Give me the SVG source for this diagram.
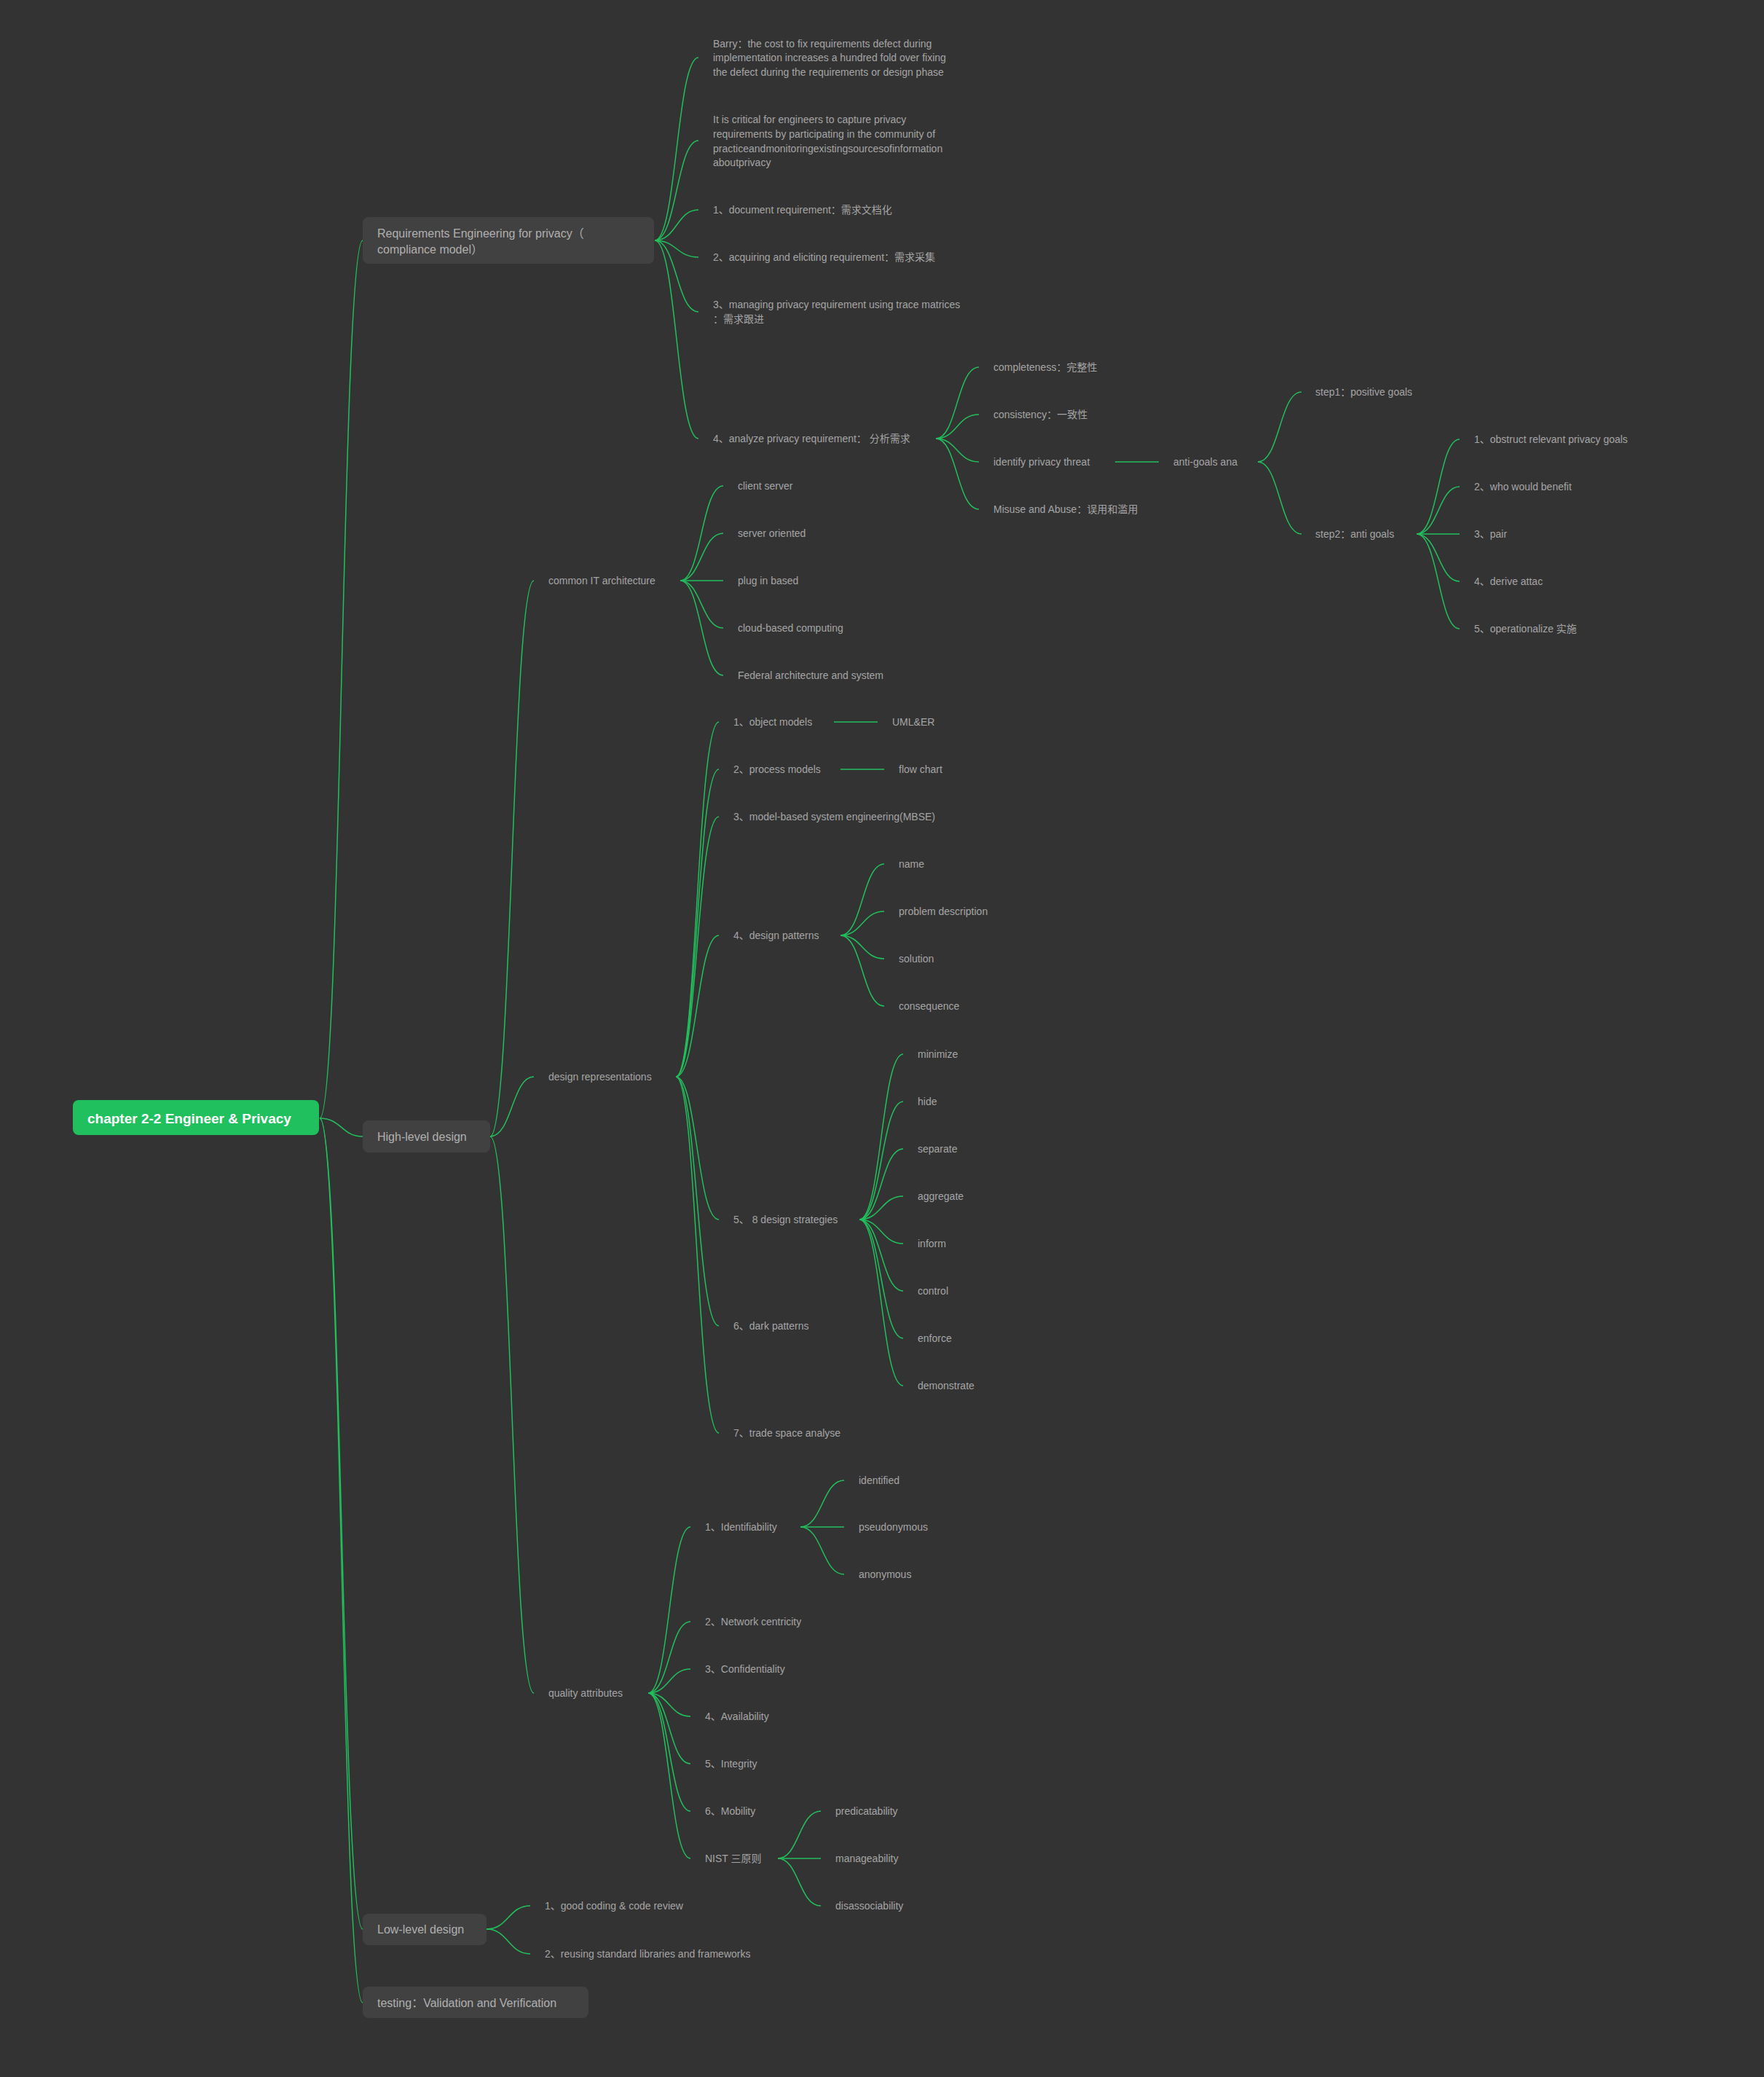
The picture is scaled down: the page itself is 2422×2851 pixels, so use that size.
<svg xmlns="http://www.w3.org/2000/svg" width="2422" height="2851" viewBox="0 0 2422 2851">
<style>
.t{font-family:"Liberation Sans","Noto Sans CJK SC",sans-serif;font-size:14px;fill:#a5a5a5}
.t1{font-family:"Liberation Sans","Noto Sans CJK SC",sans-serif;font-size:16px;fill:#b0b0b0}
.root{font-family:"Liberation Sans","Noto Sans CJK SC",sans-serif;font-size:19px;font-weight:bold;fill:#ffffff}
.box{fill:#414141}
.c path{fill:none;stroke:#22c05c;stroke-width:1.5}
</style>
<rect width="2422" height="2851" fill="#333333"/>
<g class="c" id="connectors">
<path d="M439,1535 C469,1535 469,330 498,330"/>
<path d="M439,1535 C469,1535 469,1560 498,1560"/>
<path d="M439,1535 C469,1535 469,2648 498,2648"/>
<path d="M439,1535 C469,1535 469,2749 498,2749"/>
<path d="M899,330 C929,330 929,79 959,79"/>
<path d="M899,330 C929,330 929,193 959,193"/>
<path d="M899,330 C929,330 929,288 959,288"/>
<path d="M899,330 C929,330 929,353 959,353"/>
<path d="M899,330 C929,330 929,428 959,428"/>
<path d="M899,330 C929,330 929,602 959,602"/>
<path d="M1285,602 C1314,602 1314,504 1344,504"/>
<path d="M1285,602 C1314,602 1314,569 1344,569"/>
<path d="M1285,602 C1314,602 1314,634 1344,634"/>
<path d="M1285,602 C1314,602 1314,699 1344,699"/>
<path d="M1531,634 L1591,634"/>
<path d="M1727,634 C1757,634 1757,538 1787,538"/>
<path d="M1727,634 C1757,634 1757,733 1787,733"/>
<path d="M1945,733 C1975,733 1975,603 2004,603"/>
<path d="M1945,733 C1975,733 1975,668 2004,668"/>
<path d="M1945,733 L2004,733"/>
<path d="M1945,733 C1975,733 1975,798 2004,798"/>
<path d="M1945,733 C1975,733 1975,863 2004,863"/>
<path d="M673,1560 C703,1560 703,797 733,797"/>
<path d="M673,1560 C703,1560 703,1478 733,1478"/>
<path d="M673,1560 C703,1560 703,2324 733,2324"/>
<path d="M934,797 C963,797 963,667 993,667"/>
<path d="M934,797 C963,797 963,732 993,732"/>
<path d="M934,797 L993,797"/>
<path d="M934,797 C963,797 963,862 993,862"/>
<path d="M934,797 C963,797 963,927 993,927"/>
<path d="M928,1478 C957,1478 957,991 987,991"/>
<path d="M928,1478 C957,1478 957,1056 987,1056"/>
<path d="M928,1478 C957,1478 957,1121 987,1121"/>
<path d="M928,1478 C957,1478 957,1284 987,1284"/>
<path d="M928,1478 C957,1478 957,1674 987,1674"/>
<path d="M928,1478 C957,1478 957,1820 987,1820"/>
<path d="M928,1478 C957,1478 957,1967 987,1967"/>
<path d="M1145,991 L1205,991"/>
<path d="M1154,1056 L1214,1056"/>
<path d="M1154,1284 C1184,1284 1184,1186 1214,1186"/>
<path d="M1154,1284 C1184,1284 1184,1251 1214,1251"/>
<path d="M1154,1284 C1184,1284 1184,1316 1214,1316"/>
<path d="M1154,1284 C1184,1284 1184,1381 1214,1381"/>
<path d="M1180,1674 C1210,1674 1210,1447 1240,1447"/>
<path d="M1180,1674 C1210,1674 1210,1512 1240,1512"/>
<path d="M1180,1674 C1210,1674 1210,1577 1240,1577"/>
<path d="M1180,1674 C1210,1674 1210,1642 1240,1642"/>
<path d="M1180,1674 C1210,1674 1210,1707 1240,1707"/>
<path d="M1180,1674 C1210,1674 1210,1772 1240,1772"/>
<path d="M1180,1674 C1210,1674 1210,1837 1240,1837"/>
<path d="M1180,1674 C1210,1674 1210,1902 1240,1902"/>
<path d="M890,2324 C919,2324 919,2096 948,2096"/>
<path d="M890,2324 C919,2324 919,2226 948,2226"/>
<path d="M890,2324 C919,2324 919,2291 948,2291"/>
<path d="M890,2324 C919,2324 919,2356 948,2356"/>
<path d="M890,2324 C919,2324 919,2421 948,2421"/>
<path d="M890,2324 C919,2324 919,2486 948,2486"/>
<path d="M890,2324 C919,2324 919,2551 948,2551"/>
<path d="M1099,2096 C1129,2096 1129,2032 1159,2032"/>
<path d="M1099,2096 L1159,2096"/>
<path d="M1099,2096 C1129,2096 1129,2161 1159,2161"/>
<path d="M1068,2551 C1097,2551 1097,2486 1127,2486"/>
<path d="M1068,2551 L1127,2551"/>
<path d="M1068,2551 C1097,2551 1097,2616 1127,2616"/>
<path d="M668,2648 C698,2648 698,2616 728,2616"/>
<path d="M668,2648 C698,2648 698,2682 728,2682"/>
</g>
<g id="root"><rect x="100" y="1510" width="338" height="48" rx="8" fill="#21c05e"/><text class="root" x="120" y="1542">chapter 2-2 Engineer &amp; Privacy</text></g>
<g id="req"><rect class="box" x="498" y="298" width="400" height="64" rx="8"/><text class="t1" x="518" y="326">Requirements Engineering for privacy（</text><text class="t1" x="518" y="348">compliance model）</text></g>
<g id="high"><rect class="box" x="498" y="1538" width="175" height="44" rx="8"/><text class="t1" x="518" y="1566">High-level design</text></g>
<g id="low"><rect class="box" x="498" y="2627" width="170" height="43" rx="8"/><text class="t1" x="518" y="2654">Low-level design</text></g>
<g id="testing"><rect class="box" x="498" y="2727" width="310" height="43" rx="8"/><text class="t1" x="518" y="2755">testing：Validation and Verification</text></g>
<g id="barry"><text class="t" x="979" y="64.5">Barry：the cost to fix requirements defect during</text><text class="t" x="979" y="84">implementation increases a hundred fold over fixing</text><text class="t" x="979" y="103.5">the defect during the requirements or design phase</text></g>
<g id="critical"><text class="t" x="979" y="169">It is critical for engineers to capture privacy</text><text class="t" x="979" y="189">requirements by participating in the community of</text><text class="t" x="979" y="208.5">practiceandmonitoringexistingsourcesofinformation</text><text class="t" x="979" y="228">aboutprivacy</text></g>
<g id="req1"><text class="t" x="979" y="293">1、document requirement：需求文档化</text></g>
<g id="req2"><text class="t" x="979" y="358">2、acquiring and eliciting requirement：需求采集</text></g>
<g id="req3"><text class="t" x="979" y="423">3、managing privacy requirement using trace matrices</text><text class="t" x="979" y="443">：需求跟进</text></g>
<g id="req4"><text class="t" x="979" y="607">4、analyze privacy requirement： 分析需求</text></g>
<g id="completeness"><text class="t" x="1364" y="509">completeness：完整性</text></g>
<g id="consistency"><text class="t" x="1364" y="574">consistency：一致性</text></g>
<g id="identify"><text class="t" x="1364" y="639">identify privacy threat</text></g>
<g id="misuse"><text class="t" x="1364" y="704">Misuse and Abuse：误用和滥用</text></g>
<g id="antigoals"><text class="t" x="1611" y="639">anti-goals ana</text></g>
<g id="step1"><text class="t" x="1806" y="543">step1：positive goals</text></g>
<g id="step2"><text class="t" x="1806" y="738">step2：anti goals</text></g>
<g id="ag1"><text class="t" x="2024" y="608">1、obstruct relevant privacy goals</text></g>
<g id="ag2"><text class="t" x="2024" y="673">2、who would benefit</text></g>
<g id="ag3"><text class="t" x="2024" y="738">3、pair</text></g>
<g id="ag4"><text class="t" x="2024" y="803">4、derive attac</text></g>
<g id="ag5"><text class="t" x="2024" y="868">5、operationalize 实施</text></g>
<g id="commonit"><text class="t" x="753" y="802">common IT architecture</text></g>
<g id="cs"><text class="t" x="1013" y="672">client server</text></g>
<g id="so"><text class="t" x="1013" y="737">server oriented</text></g>
<g id="pib"><text class="t" x="1013" y="802">plug in based</text></g>
<g id="cbc"><text class="t" x="1013" y="867">cloud-based computing</text></g>
<g id="fed"><text class="t" x="1013" y="932">Federal architecture and system</text></g>
<g id="designrep"><text class="t" x="753" y="1483">design representations</text></g>
<g id="dr1"><text class="t" x="1007" y="996">1、object models</text></g>
<g id="uml"><text class="t" x="1225" y="996">UML&amp;ER</text></g>
<g id="dr2"><text class="t" x="1007" y="1061">2、process models</text></g>
<g id="flow"><text class="t" x="1234" y="1061">flow chart</text></g>
<g id="dr3"><text class="t" x="1007" y="1126">3、model-based system engineering(MBSE)</text></g>
<g id="dr4"><text class="t" x="1007" y="1289">4、design patterns</text></g>
<g id="dp1"><text class="t" x="1234" y="1191">name</text></g>
<g id="dp2"><text class="t" x="1234" y="1256">problem description</text></g>
<g id="dp3"><text class="t" x="1234" y="1321">solution</text></g>
<g id="dp4"><text class="t" x="1234" y="1386">consequence</text></g>
<g id="dr5"><text class="t" x="1007" y="1679">5、 8 design strategies</text></g>
<g id="s1"><text class="t" x="1260" y="1452">minimize</text></g>
<g id="s2"><text class="t" x="1260" y="1517">hide</text></g>
<g id="s3"><text class="t" x="1260" y="1582">separate</text></g>
<g id="s4"><text class="t" x="1260" y="1647">aggregate</text></g>
<g id="s5"><text class="t" x="1260" y="1712">inform</text></g>
<g id="s6"><text class="t" x="1260" y="1777">control</text></g>
<g id="s7"><text class="t" x="1260" y="1842">enforce</text></g>
<g id="s8"><text class="t" x="1260" y="1907">demonstrate</text></g>
<g id="dr6"><text class="t" x="1007" y="1825">6、dark patterns</text></g>
<g id="dr7"><text class="t" x="1007" y="1972">7、trade space analyse</text></g>
<g id="quality"><text class="t" x="753" y="2329">quality attributes</text></g>
<g id="q1"><text class="t" x="968" y="2101">1、Identifiability</text></g>
<g id="id1"><text class="t" x="1179" y="2037">identified</text></g>
<g id="id2"><text class="t" x="1179" y="2101">pseudonymous</text></g>
<g id="id3"><text class="t" x="1179" y="2166">anonymous</text></g>
<g id="q2"><text class="t" x="968" y="2231">2、Network centricity</text></g>
<g id="q3"><text class="t" x="968" y="2296">3、Confidentiality</text></g>
<g id="q4"><text class="t" x="968" y="2361">4、Availability</text></g>
<g id="q5"><text class="t" x="968" y="2426">5、Integrity</text></g>
<g id="q6"><text class="t" x="968" y="2491">6、Mobility</text></g>
<g id="nist"><text class="t" x="968" y="2556">NIST 三原则</text></g>
<g id="n1"><text class="t" x="1147" y="2491">predicatability</text></g>
<g id="n2"><text class="t" x="1147" y="2556">manageability</text></g>
<g id="n3"><text class="t" x="1147" y="2621">disassociability</text></g>
<g id="ll1"><text class="t" x="748" y="2621">1、good coding &amp; code review</text></g>
<g id="ll2"><text class="t" x="748" y="2687">2、reusing standard libraries and frameworks</text></g>
</svg>
